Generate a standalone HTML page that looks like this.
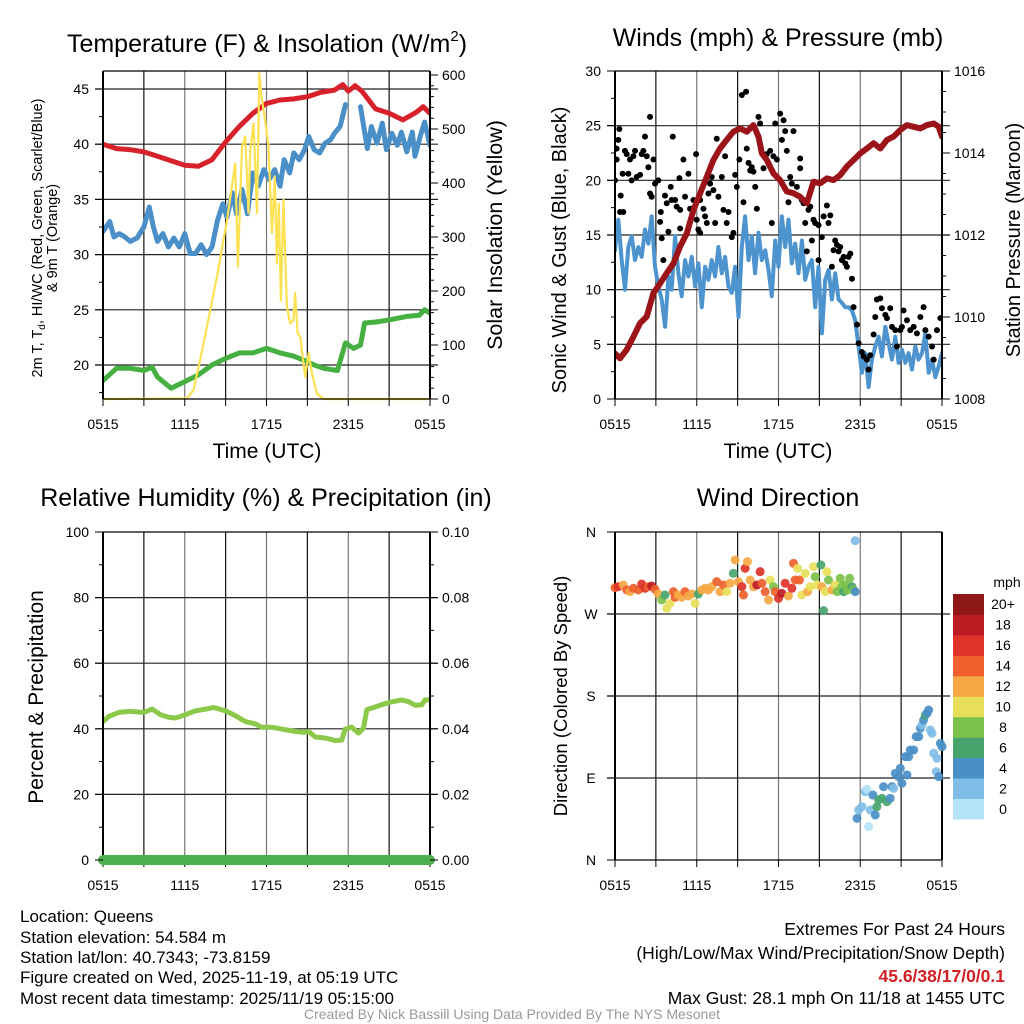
<!DOCTYPE html>
<html><head><meta charset="utf-8"><style>
html,body{margin:0;padding:0;background:#fff;}
svg{display:block;font-family:"Liberation Sans",Arial,sans-serif;}
</style></head><body>
<svg id="chart" width="1024" height="1024" viewBox="0 0 1024 1024" xmlns="http://www.w3.org/2000/svg">
<rect x="0" y="0" width="1024" height="1024" fill="#fff"/>
<g id="layer"></g>
<text x="267" y="52" font-size="25" text-anchor="middle">Temperature (F) &amp; Insolation (W/m<tspan font-size="15" dy="-11">2</tspan><tspan dy="11">)</tspan></text>
<text x="778" y="46" font-size="25" text-anchor="middle">Winds (mph) &amp; Pressure (mb)</text>
<text x="266" y="506" font-size="25" text-anchor="middle">Relative Humidity (%) &amp; Precipitation (in)</text>
<text x="778" y="506" font-size="25" text-anchor="middle">Wind Direction</text>
<text x="267" y="458" font-size="21" text-anchor="middle">Time (UTC)</text>
<text x="778" y="458" font-size="21" text-anchor="middle">Time (UTC)</text>
<text transform="translate(42,238) rotate(-90)" font-size="14.5" text-anchor="middle">2m T, T<tspan font-size="10" dy="3">d</tspan><tspan dy="-3">, HI/WC (Red, Green, Scarlet/Blue)</tspan></text>
<text transform="translate(57,238) rotate(-90)" font-size="14.5" text-anchor="middle">&amp; 9m T (Orange)</text>
<text transform="translate(502,235) rotate(-90)" font-size="21.5" text-anchor="middle">Solar Insolation (Yellow)</text>
<text transform="translate(566,250) rotate(-90)" font-size="20" text-anchor="middle">Sonic Wind &amp; Gust (Blue, Black)</text>
<text transform="translate(1020,240) rotate(-90)" font-size="20" text-anchor="middle">Station Pressure (Maroon)</text>
<text transform="translate(43,697) rotate(-90)" font-size="21" text-anchor="middle">Percent &amp; Precipitation</text>
<text transform="translate(567,696) rotate(-90)" font-size="18.5" text-anchor="middle">Direction (Colored By Speed)</text>
<g font-size="17">
<text x="20" y="922">Location: Queens</text>
<text x="20" y="943">Station elevation: 54.584 m</text>
<text x="20" y="963">Station lat/lon: 40.7343; -73.8159</text>
<text x="20" y="983">Figure created on Wed, 2025-11-19, at 05:19 UTC</text>
<text x="20" y="1004">Most recent data timestamp: 2025/11/19 05:15:00</text>
</g>
<g font-size="17.5" text-anchor="end">
<text x="1005" y="935">Extremes For Past 24 Hours</text>
<text x="1005" y="959">(High/Low/Max Wind/Precipitation/Snow Depth)</text>
<text x="1005" y="982" fill="#d02027" font-weight="bold">45.6/38/17/0/0.1</text>
<text x="1005" y="1004">Max Gust: 28.1 mph On 11/18 at 1455 UTC</text>
</g>
<text x="512" y="1019" font-size="14" fill="#999" text-anchor="middle">Created By Nick Bassill Using Data Provided By The NYS Mesonet</text>
</svg>
<script>
// ---------- DATA ----------
const xTickLabels = ["0515","1115","1715","2315","0515"];
const tempTicks = [20,25,30,35,40,45];
const solarTicks = [0,100,200,300,400,500,600];
const windTicks = [0,5,10,15,20,25,30];
const presTicks = [1008,1010,1012,1014,1016];
const rhTicks = [0,20,40,60,80,100];
const precipTicks = ["0.00","0.02","0.04","0.06","0.08","0.10"];
const dirTickLabels = ["N","E","S","W","N"];
const speedLabels = ["0","2","4","6","8","10","12","14","16","18","20+"];

const tempHours = [0,1,2,3,4,5,6,7,8,9,10,11,12,13,14,15,16,17,17.6,18,18.5,19,20,21,22,23,23.5,24];
const tempVals  = [40.0,39.6,39.5,39.3,38.9,38.5,38.1,38.0,38.6,40.2,41.6,42.8,43.7,44.0,44.1,44.3,44.7,44.9,45.4,44.8,45.3,44.8,43.2,42.8,42.2,42.9,43.4,42.8];

const dewHours = [0,.5,.8,1.2,1.6,2,2.5,3,3.4,3.7,4,4.4,4.8,5.2,5.6,6,6.4,6.8,7.2,7.6,8,8.4,8.8,9.1,9.5,9.8,10.2,10.6,11,11.4,11.8,12.2,12.6,13,13.3,13.7,14,14.4,14.8,15.1,15.5,15.9,16.3,16.7,17,17.4,17.8,18.3,18.9,19.4,19.7,20.1,20.5,20.8,21.2,21.6,21.9,22.3,22.7,22.9,23.3,23.6,24];
const dewVals  = [32.1,33.0,31.6,31.9,31.6,31.2,31.5,32.5,34.3,32.5,31.2,31.9,30.7,31.5,30.7,31.9,30.1,30.1,30.9,30.0,30.7,33.1,34.6,33.4,35.6,33.7,35.9,33.7,37.4,36.2,37.7,36.8,37.7,36.2,38.6,37.4,39.2,38.6,39.5,40.7,39.5,39.2,40.1,40.4,41.0,41.6,43.6,null,43.4,39.6,41.6,40.1,41.9,39.5,41.0,39.9,41.1,39.3,41.1,38.9,40.8,42.0,39.9];

const greenHours = [0,1,2,3,3.6,4,5,6,7,8,9,10,11,12,13,14,15,15.5,16.2,17.2,17.8,18.4,18.9,19.2,20.1,21.1,22.3,23.2,23.6,24];
const greenVals  = [18.6,19.7,19.7,19.5,19.8,18.9,17.9,18.5,19.1,20.0,20.6,21.1,21.1,21.5,21.1,20.8,20.3,20.0,19.7,19.5,22.0,21.5,21.8,23.8,23.9,24.1,24.4,24.5,25.0,24.7];

const solarHours = [0,6.16,6.65,7.38,8.36,9.1,9.7,9.9,10.2,10.44,10.68,10.8,11.05,11.3,11.47,11.66,11.9,12.15,12.4,12.6,12.76,12.9,13.06,13.25,13.5,13.74,13.98,14.1,14.28,14.47,14.84,15.09,15.33,15.7,16.19,24];
const solarVals  = [0,1,17,103,226,331,436,245,467,486,344,461,510,344,603,554,517,467,307,412,251,362,183,369,171,140,146,196,122,115,41,85,48,10,0,0];

const windVals = [13.6,16.4,12.7,10.0,13.9,14.9,12.7,13.9,13.0,15.5,14.2,16.7,12.1,10.3,9.1,6.6,11.2,10.0,14.9,11.5,9.4,12.7,11.2,13.0,10.3,12.4,8.4,12.1,10.9,12.7,11.2,13.9,11.5,13.0,10.3,9.7,12.1,7.5,13.9,16.7,12.7,14.9,11.5,15.2,12.7,13.6,11.8,9.4,14.5,12.1,16.7,13.9,16.4,12.4,14.2,11.5,14.5,10.9,12.1,12.7,8.4,12.1,6.0,10.9,11.8,9.1,11.5,9.1,8.8,8.4,8.4,8.1,7.2,4.8,2.4,4.2,1.1,3.6,4.8,5.7,3.9,6.6,5.1,3.6,5.7,3.3,4.5,3.3,4.2,2.7,4.8,3.6,4.2,6.0,2.4,3.6,2.0,3.0,4.2];

const gustHours = [0,.12,.24,.32,.12,.42,.37,.61,.56,.73,.86,.98,1.22,1.10,1.35,1.47,1.59,1.84,1.96,2.08,2.20,2.33,2.45,2.57,2.57,2.69,2.82,2.94,3.18,3.31,3.36,3.43,3.55,3.67,3.80,3.92,4.09,4.16,4.24,4.41,4.53,4.78,4.78,4.73,5.02,5.14,5.39,5.51,5.63,5.76,5.95,6.0,6.12,6.25,6.25,6.49,6.61,6.74,6.86,6.98,7.10,7.22,7.35,7.47,7.59,7.84,7.96,8.08,8.2,8.33,8.57,8.69,8.82,8.94,9.13,9.31,9.62,9.43,9.67,9.80,9.92,10.04,10.16,10.29,10.41,10.53,10.65,10.9,11.14,11.39,11.51,11.63,11.76,11.88,12.12,12.25,12.37,12.49,12.61,12.73,12.86,12.98,13.1,13.35,13.59,13.59,13.71,13.84,13.96,14.08,14.2,14.33,14.45,14.57,14.69,14.94,14.94,15.18,15.31,15.55,15.67,15.8,15.92,16.04,16.16,16.29,16.41,16.53,16.65,16.78,16.9,17.02,17.14,17.27,17.39,17.51,17.76,17.88,18.12,18.25,18.49,18.61,18.73,18.98,19.1,19.22,19.47,19.59,19.84,19.96,20.2,20.33,20.57,20.69,20.94,21.06,21.18,21.43,21.67,21.92,22.16,22.41,22.65,22.78,23.02,23.27,23.39,23.63,23.88];
const gustVals  = [20.0,22.9,23.7,24.7,21.9,18.6,17.1,17.1,20.6,22.7,22.4,20.6,20.0,21.9,22.2,22.7,20.3,20.5,22.4,22.7,24.0,22.2,21.2,25.8,18.8,18.5,21.9,19.7,20.0,16.2,17.1,14.7,12.7,18.6,17.9,15.3,19.4,18.2,24.0,18.2,17.6,17.3,15.6,20.2,21.9,18.5,20.6,17.4,17.4,18.2,22.4,16.4,15.5,15.2,18.2,17.4,16.7,16.1,18.8,19.7,20.3,19.1,16.1,23.8,18.5,20.3,17.3,22.2,16.1,17.1,14.8,15.2,20.5,19.4,21.9,27.8,28.1,18.0,22.9,21.6,20.9,21.2,20.8,19.4,17.4,25.8,25.2,21.1,22.4,22.7,16.1,22.2,25.2,21.9,26.1,23.7,25.5,24.5,22.7,18.0,20.3,19.7,24.5,19.4,22.0,21.1,18.2,17.9,16.1,13.5,17.3,17.6,14.5,16.4,16.1,15.9,12.7,14.8,16.7,17.7,16.1,16.8,12.1,13.6,14.5,14.1,13.5,13.9,12.7,13.0,12.4,12.1,13.0,13.3,11.0,8.4,6.8,5.1,4.3,3.9,3.6,2.7,4.0,5.9,7.5,9.1,9.2,8.3,7.7,7.4,8.3,6.6,6.3,4.8,6.3,6.6,8.1,7.2,6.3,6.6,6.0,7.5,8.4,6.3,5.7,4.8,3.6,6.3,7.4];

const presHours = [0,.37,.86,1.35,1.84,2.33,2.82,3.31,3.80,4.29,4.78,5.27,5.76,6.25,6.74,7.22,7.71,8.2,8.69,9.18,9.67,10.16,10.53,10.78,11.14,11.63,12.12,12.61,13.1,13.59,14.08,14.57,15.06,15.55,16.04,16.53,17.02,17.51,18.0,18.49,18.98,19.47,19.96,20.45,20.94,21.43,21.92,22.41,22.9,23.39,23.76,24];
const presVals  = [1009.11,1008.99,1009.20,1009.52,1009.85,1010.01,1010.58,1010.82,1011.07,1011.31,1011.72,1012.04,1012.61,1013.02,1013.42,1013.83,1014.11,1014.32,1014.52,1014.60,1014.52,1014.68,1014.40,1013.99,1013.83,1013.50,1013.34,1013.06,1013.02,1012.93,1012.77,1013.30,1013.26,1013.38,1013.34,1013.46,1013.67,1013.83,1013.99,1014.11,1014.24,1014.11,1014.32,1014.40,1014.56,1014.68,1014.64,1014.60,1014.68,1014.72,1014.64,1014.40];

const rhHours = [0,.44,1.17,1.9,3.0,3.61,4.22,4.83,5.32,6.05,6.79,7.52,8.13,8.98,9.72,10.45,11.18,11.67,12.4,13.13,14.11,14.72,15.09,15.58,16.31,17.04,17.53,17.77,18.26,18.75,19.12,19.36,19.73,20.21,20.95,21.92,22.41,22.9,23.39,23.63,24];
const rhVals  = [42.2,43.8,45.0,45.3,45.0,46.0,44.3,43.5,43.3,44.3,45.5,46.0,46.5,45.5,44.0,42.2,41.5,40.5,40.5,39.9,39.2,38.9,39.2,37.5,37.2,36.4,36.6,39.9,40.5,38.7,40.2,45.8,46.3,47.0,48.0,48.8,48.3,47.2,47.3,48.8,48.8];
const precipHours = [0,24];
const precipVals = [0,0];

const dirHours = [0,.24,.61,.86,1.10,1.35,1.71,1.96,2.20,2.45,2.69,2.94,3.18,3.43,3.67,3.80,4.04,4.29,4.41,4.65,4.90,5.14,5.39,5.63,5.88,6.12,6.37,6.61,6.86,7.10,7.47,7.71,7.96,8.20,8.45,8.69,8.82,9.06,9.31,9.43,9.55,9.72,9.92,10.16,10.41,10.65,10.78,11.02,11.27,11.39,11.63,11.76,12.0,12.24,12.49,12.73,12.98,13.10,13.22,13.40,13.54,13.71,13.96,14.13,14.33,14.57,14.69,14.82,15.11,15.18,15.31,15.43,15.55,15.67,15.92,16.16,16.29,16.53,16.65,16.78,16.90,17.07,17.22,17.39,17.51,17.63,17.63,
 17.76,17.88,18.12,18.37,18.49,18.61,18.74,18.93,19.10,19.22,19.35,19.59,19.71,19.96,20.20,20.33,20.45,20.57,20.82,20.94,21.06,21.31,21.43,21.55,21.67,21.92,22.11,22.29,22.41,22.53,22.65,22.78,22.90,23.02,23.14,23.27,23.39,23.58,23.63,23.76,23.88,24];
const dirVals = [298.9,300,301.8,296.4,294.5,298.2,296.4,302.9,298.2,300,300.7,297.1,292,285.4,290.9,276.2,281.7,294.5,288.3,290.9,288.3,294.5,289.8,292,281.7,292,296.4,298.2,296.4,300,305.5,294.5,301.8,294.5,303.7,314.6,329.3,305.5,300,290.9,320.1,327.5,307.3,300,301.8,316.5,303.7,294.5,285.4,307.3,300,294.5,287.2,292.7,303.7,289.8,298.2,325.6,307.3,320.1,307.3,290.9,314.6,294.5,300,322,311,301.8,323.8,300,273.7,294.5,316.5,307.3,296.4,301.8,294.5,309.2,300,294.5,301.8,296.4,309.2,300,296.4,294.5,350.5,
 45.7,54.9,58.5,75,77.6,36.6,54.9,71.3,49.4,58.5,65.9,67.7,80.5,64,67.7,80.5,78.7,95.1,91.5,100.6,84.2,113.4,93.3,113.4,120.7,120.7,135.4,135.4,144.5,148.2,153.7,159.2,161,164.6,142.7,139,117.1,97,111.6,91.5,128,124.4];
const dirSpeeds = [14,16,12,14,12,14,14,16,16,14,18,14,12,8,6,10,10,14,14,12,12,14,12,12,10,6,12,12,12,12,14,12,14,10,12,6,12,12,16,14,16,12,12,12,18,16,14,14,12,10,8,14,16,18,16,12,16,14,14,10,14,10,10,12,10,10,8,10,6,12,6,10,10,8,12,10,8,8,8,6,8,8,8,6,8,4,2,
 4,2,2,2,0,0,2,4,4,6,6,6,4,6,4,4,2,4,4,4,4,4,4,4,4,4,4,4,4,2,4,6,4,4,2,2,2,2,2,4,4,4];
const speedColors = ["#b5e3f8","#80bde6","#4a8fc7","#48a46c","#7cc14a","#e7df5a","#f5a843","#ee602d","#dd3328","#bc1c24","#8e1718"];

// ---------- DRAWING ----------
const NS="http://www.w3.org/2000/svg";
const layer=document.getElementById('layer');
function mk(tag,attrs,parent){const e=document.createElementNS(NS,tag);for(const k in attrs)e.setAttribute(k,attrs[k]);(parent||layer).appendChild(e);return e;}
function scale(d0,d1,r0,r1){return v=>r0+(v-d0)/(d1-d0)*(r1-r0);}

function panel(P,name){
  const g=mk('g',{});
  
  
  P.g=g;
  P.x=scale(0,24,P.x0,P.x1);
  return g;
}
function grid(P,hLines){
  const g=mk('g',{},P.g);
  
  
  for(let h=3;h<24;h+=3){const x=P.x(h);mk('line',{x1:x,x2:x,y1:P.y0,y2:P.y1,stroke:(h%6==0)?'#777':'#111','stroke-width':1.2},g);}
  hLines.forEach(y=>mk('line',{x1:P.x0-8,x2:P.x1+8,y1:y,y2:y,stroke:'#222','stroke-width':1.2},g));
}
function frame(P){
  mk('line',{x1:P.x0,x2:P.x0,y1:P.y0,y2:P.y1,stroke:'#000','stroke-width':2},P.g);
  mk('line',{x1:P.x1,x2:P.x1,y1:P.y0,y2:P.y1,stroke:'#000','stroke-width':2},P.g);
  mk('line',{x1:P.x0,x2:P.x1,y1:P.y0,y2:P.y0,stroke:'#000','stroke-width':1.2},P.g);
  mk('line',{x1:P.x0,x2:P.x1,y1:P.y1,y2:P.y1,stroke:'#000','stroke-width':1.2},P.g);
  for(let h=0;h<=24;h+=3){const x=P.x(h);mk('line',{x1:x,x2:x,y1:P.y1,y2:P.y1+7,stroke:'#000','stroke-width':1},P.g);}
  xTickLabels.forEach((t,i)=>{const e=mk('text',{x:P.x(i*6),y:P.y1+30,'font-size':14,'text-anchor':'middle'},P.g);e.textContent=t;
    
    });
}
function yTicks(P,ys,labels,side,minorYs){
  ys.forEach((y,i)=>{
    if(side=='left'){mk('line',{x1:P.x0-8,x2:P.x0,y1:y,y2:y,stroke:'#000'},P.g);
      const e=mk('text',{x:P.x0-14,y:y+5,'font-size':14,'text-anchor':'end'},P.g);e.textContent=labels[i];
      
      }
    else{mk('line',{x1:P.x1,x2:P.x1+8,y1:y,y2:y,stroke:'#000'},P.g);
      const e=mk('text',{x:P.x1+12,y:y+5,'font-size':14,'text-anchor':'start'},P.g);e.textContent=labels[i];
      
      }
  });
  (minorYs||[]).forEach(y=>{ if(side=='left')mk('line',{x1:P.x0-4,x2:P.x0,y1:y,y2:y,stroke:'#000'},P.g);
    else mk('line',{x1:P.x1,x2:P.x1+4,y1:y,y2:y,stroke:'#000'},P.g);});
}
function line(P,hs,vs,ys,color,w,name,parent){
  let d='',pen=false;
  hs.forEach((h,i)=>{const v=vs[i];if(v===null||v===undefined){pen=false;return;}
    d+=(pen?'L':'M')+P.x(h).toFixed(1)+','+ys(v).toFixed(1);pen=true;});
  const e=mk('path',{d:d,fill:'none',stroke:color,'stroke-width':w,'stroke-linejoin':'round','stroke-linecap':'round'},parent||P.g);
  
  
  return e;
}
function clip(P,id){const c=mk('clipPath',{id:id});mk('rect',{x:P.x0,y:P.y0-2,width:P.x1-P.x0,height:P.y1-P.y0+4},c);}

// Panel 1
const P1={x0:103,x1:430,y0:71,y1:399};panel(P1,'temperature-panel');
const t1=scale(20,45,365,89), s1=scale(0,600,399,75);
grid(P1,tempTicks.map(t1));
clip(P1,'c1');
const g1=mk('g',{'clip-path':'url(#c1)'},P1.g);
line(P1,greenHours,greenVals,t1,'#45b041',5,'green-temp-line',g1);
line(P1,tempHours,tempVals,t1,'#d7222b',5,'air-temp-line',g1);
line(P1,dewHours,dewVals,t1,'#4a8fc8',5,'heat-index-line',g1);
line(P1,solarHours,solarVals,s1,'#fce252',2.2,'solar-insolation-line',g1);
frame(P1);
const minor1=[];for(let t=17.5;t<47;t+=5)minor1.push(t1(t));
yTicks(P1,tempTicks.map(t1),tempTicks,'left',minor1);
const minorS=[];for(let s=20;s<610;s+=20)if(s%100)minorS.push(s1(s));
yTicks(P1,solarTicks.map(s1),solarTicks,'right',minorS);

// Panel 2
const P2={x0:615,x1:942,y0:71,y1:399};panel(P2,'wind-pressure-panel');
const w2=scale(0,30,399,71), p2=scale(1008,1016,399,71);
grid(P2,[5,10,15,20,25].map(w2));
clip(P2,'c2');
const g2=mk('g',{'clip-path':'url(#c2)'},P2.g);
const step=24/(windVals.length-1);
const windHours=windVals.map((v,i)=>i*step);
line(P2,windHours,windVals,w2,'#4d94cf',4,'sonic-wind-line',g2);
const gg=mk('g',{},g2);


gustHours.forEach((h,i)=>{const c=mk('circle',{cx:P2.x(h),cy:w2(gustVals[i]),r:3,fill:'#000'},gg);
  
  });
line(P2,presHours,presVals,p2,'#9b1419',6,'pressure-line',g2);
frame(P2);
const minorW=[];for(let v=2.5;v<30;v+=5)minorW.push(w2(v));
yTicks(P2,windTicks.map(w2),windTicks,'left',minorW);
const minorP=[];for(let v=1008.5;v<1016;v+=0.5)if(v%2)minorP.push(p2(v));
yTicks(P2,presTicks.map(p2),presTicks,'right',minorP);

// Panel 3
const P3={x0:103,x1:430,y0:532,y1:860};panel(P3,'humidity-panel');
const r3=scale(0,100,860,532), q3=scale(0,0.1,860,532);
grid(P3,[20,40,60,80].map(r3));
clip(P3,'c3');
const g3=mk('g',{'clip-path':'url(#c3)'},P3.g);
line(P3,rhHours,rhVals,r3,'#8cc94b',5,'relative-humidity-line',g3);
frame(P3);
line(P3,precipHours,precipVals,q3,'#4cae4c',10,'precipitation-line');
const minorR=[];for(let v=10;v<100;v+=20)minorR.push(r3(v));
yTicks(P3,rhTicks.map(r3),rhTicks,'left',minorR);
yTicks(P3,precipTicks.map(v=>q3(+v)),precipTicks,'right',minorR);

// Panel 4
const P4={x0:615,x1:942,y0:532,y1:860};panel(P4,'wind-direction-panel');
const d4=scale(0,360,860,532);
grid(P4,[90,180,270].map(d4));
frame(P4);
dirTickLabels.forEach((t,i)=>{const y=d4(i*90);mk('line',{x1:P4.x0-8,x2:P4.x0,y1:y,y2:y,stroke:'#000'},P4.g);
  const e=mk('text',{x:591,y:y+5,'font-size':14,'text-anchor':'middle'},P4.g);e.textContent=t;
  
  });
const g4=mk('g',{},P4.g);


dirHours.forEach((h,i)=>{const idx=Math.min(10,Math.floor(dirSpeeds[i]/2));
  const c=mk('circle',{cx:P4.x(h),cy:d4(dirVals[i]),r:4.5,fill:speedColors[idx],'fill-opacity':0.92},g4);
  
  });

// Colorbar
const cb=mk('g',{});


const cbTop=594,cbBot=819,bh=(cbBot-cbTop)/speedLabels.length;
speedLabels.forEach((lab,i)=>{const y=cbBot-(i+1)*bh;
  const r=mk('rect',{x:953,y:y,width:31,height:bh+0.5,fill:speedColors[i]},cb);
  
  
  const t=mk('text',{x:1003,y:y+bh/2+5,'font-size':14,'text-anchor':'middle'},cb);t.textContent=lab;
  
  });
const mt=mk('text',{x:1007,y:587,'font-size':14,'text-anchor':'middle'},cb);mt.textContent='mph';


</script>
</body></html>
